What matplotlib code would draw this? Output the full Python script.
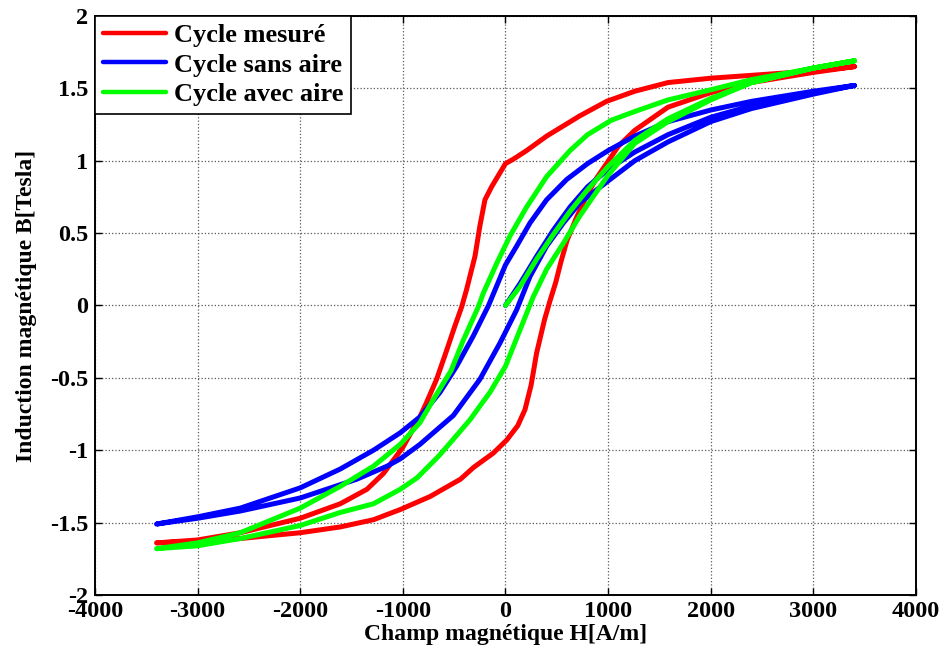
import matplotlib
matplotlib.use("Agg")
import matplotlib.pyplot as plt

# ---- data ----
# Cycle mesuré (red): descending branch then ascending branch
red_desc_H = [3400, 3000, 2400, 2000, 1584, 1260, 985, 725, 401, 206, 75, 0, -135, -200, -249, -297,
              -379, -427, -492, -573, -671, -769, -834, -1000, -1188, -1350, -1610, -2000, -2584, -3000, -3400]
red_desc_B = [1.65, 1.62, 1.59, 1.57, 1.54, 1.48, 1.41, 1.31, 1.17, 1.07, 1.01, 0.98, 0.82, 0.73, 0.55, 0.34,
              0.11, -0.01, -0.14, -0.31, -0.51, -0.67, -0.77, -0.98, -1.16, -1.27, -1.37, -1.47, -1.57, -1.62, -1.64]
red_asc_H = [-3400, -3000, -2584, -2000, -1610, -1286, -1026, -735, -438, -313, -119, 12, 120, 190, 250, 303,
             380, 433, 490, 540, 600, 694, 791, 888, 985, 1100, 1260, 1584, 2000, 2396, 3000, 3400]
red_asc_B = [-1.64, -1.63, -1.61, -1.57, -1.53, -1.48, -1.41, -1.32, -1.20, -1.12, -1.02, -0.93, -0.83, -0.72, -0.55, -0.33,
             -0.10, 0.03, 0.16, 0.30, 0.45, 0.61, 0.76, 0.88, 0.98, 1.10, 1.21, 1.37, 1.47, 1.54, 1.61, 1.65]

# Cycle sans aire (blue): initial curve, descending, ascending
blue_init_H = [0, 141, 304, 466, 629, 800, 1000, 1260, 1584, 2000, 2400, 3000, 3400]
blue_init_B = [0.0, 0.15, 0.34, 0.52, 0.68, 0.82, 0.94, 1.06, 1.18, 1.30, 1.38, 1.47, 1.52]
blue_desc_H = [3400, 3000, 2396, 2000, 1584, 1260, 1000, 800, 596, 401, 239, 109, 0, -165, -313, -476,
               -638, -834, -1026, -1286, -1610, -2000, -2584, -3000, -3400]
blue_desc_B = [1.52, 1.48, 1.41, 1.35, 1.27, 1.17, 1.07, 0.98, 0.87, 0.73, 0.57, 0.41, 0.28, 0.0, -0.21, -0.42,
               -0.60, -0.77, -0.88, -1.00, -1.13, -1.26, -1.40, -1.46, -1.51]
blue_asc_H = [-3400, -3000, -2584, -2000, -1448, -1153, -1026, -834, -508, -249, -54, 109, 239, 401, 564, 726,
              1000, 1260, 1584, 2000, 2396, 3000, 3400]
blue_asc_B = [-1.51, -1.47, -1.42, -1.33, -1.20, -1.11, -1.06, -0.96, -0.76, -0.51, -0.26, -0.03, 0.20, 0.41, 0.57, 0.71,
              0.86, 1.00, 1.13, 1.27, 1.36, 1.46, 1.52]

# Cycle avec aire (green): initial curve, descending, ascending
green_init_H = [0, 141, 304, 466, 629, 800, 1000, 1260, 1584, 2000, 2396, 3000, 3400]
green_init_B = [0.0, 0.13, 0.32, 0.49, 0.65, 0.80, 0.96, 1.14, 1.29, 1.43, 1.54, 1.64, 1.69]
green_desc_H = [3400, 3000, 2396, 2000, 1584, 1260, 1032, 800, 629, 401, 206, 44, -86, -216, -265, -411,
                -530, -703, -834, -1026, -1286, -1610, -2000, -2584, -3000, -3400]
green_desc_B = [1.69, 1.64, 1.56, 1.49, 1.42, 1.34, 1.28, 1.18, 1.07, 0.89, 0.68, 0.48, 0.29, 0.085, -0.01, -0.24,
                -0.45, -0.65, -0.81, -0.96, -1.11, -1.25, -1.40, -1.57, -1.64, -1.68]
green_asc_H = [-3400, -3000, -2584, -2000, -1610, -1286, -1026, -860, -650, -503, -346, -244, -151, 0, 141, 271,
               401, 564, 726, 1000, 1260, 1584, 2000, 2396, 3000, 3400]
green_asc_B = [-1.68, -1.66, -1.61, -1.52, -1.43, -1.37, -1.27, -1.19, -1.04, -0.92, -0.79, -0.69, -0.60, -0.42, -0.17, 0.06,
               0.25, 0.43, 0.62, 0.90, 1.12, 1.27, 1.42, 1.54, 1.64, 1.69]

labels = ["Cycle mesuré", "Cycle sans aire", "Cycle avec aire"]
x_ticks = [-4000, -3000, -2000, -1000, 0, 1000, 2000, 3000, 4000]
x_ticklabels = ["-4000", "-3000", "-2000", "-1000", "0", "1000", "2000", "3000", "4000"]
y_ticks = [-2, -1.5, -1, -0.5, 0, 0.5, 1, 1.5, 2]
y_ticklabels = ["-2", "-1.5", "-1", "-0.5", "0", "0.5", "1", "1.5", "2"]

plt.rcParams['font.family'] = ['Liberation Serif', 'DejaVu Serif']
plt.rcParams['font.weight'] = 'bold'

fig = plt.figure(figsize=(9.44, 6.57), dpi=100)
ax = fig.add_axes([0.1006, 0.0944, 0.8697, 0.8813])

lw = 3.6
ax.plot(red_desc_H + red_asc_H, red_desc_B + red_asc_B, color=(1, 0, 0), lw=lw,
        solid_capstyle='round', solid_joinstyle='round', label=labels[0])
ax.plot(blue_init_H + blue_desc_H + blue_asc_H, blue_init_B + blue_desc_B + blue_asc_B, color=(0, 0, 1), lw=lw,
        solid_capstyle='round', solid_joinstyle='round', label=labels[1])
ax.plot(green_init_H + green_desc_H + green_asc_H, green_init_B + green_desc_B + green_asc_B, color=(0, 1, 0), lw=lw,
        solid_capstyle='round', solid_joinstyle='round', label=labels[2])

ax.set_xlim(-4000, 4000)
ax.set_ylim(-2, 2)
ax.set_xticks(x_ticks)
ax.set_xticklabels(x_ticklabels)
ax.set_yticks(y_ticks)
ax.set_yticklabels(y_ticklabels)
ax.tick_params(direction='in', top=True, right=True, length=5, width=1.0,
               labelsize=17.5, pad=5)
ax.tick_params(axis='x', pad=4)
for lab in ax.get_xticklabels() + ax.get_yticklabels():
    lab.set_fontweight('bold')
ax.grid(True, linestyle=':', color='0.35', linewidth=0.9)
ax.set_axisbelow(True)
for sp in ax.spines.values():
    sp.set_linewidth(1.4)
    sp.set_color('black')

ax.set_xlabel("Champ magnétique H[A/m]", fontsize=17, fontweight='bold', labelpad=2)
ax.set_ylabel("Induction magnétique B[Tesla]", fontsize=17, fontweight='bold', labelpad=9)

leg = ax.legend(loc='upper left', bbox_to_anchor=(0, 1), borderaxespad=0, fancybox=False,
                edgecolor='black', framealpha=1, prop={'weight': 'bold', 'size': 19},
                handlelength=2.4, handletextpad=0.3, labelspacing=0.22, borderpad=0.3)
leg.get_frame().set_linewidth(1.2)
for l in leg.get_lines():
    l.set_linewidth(3.2)

fig.savefig("out.png", dpi=100)
